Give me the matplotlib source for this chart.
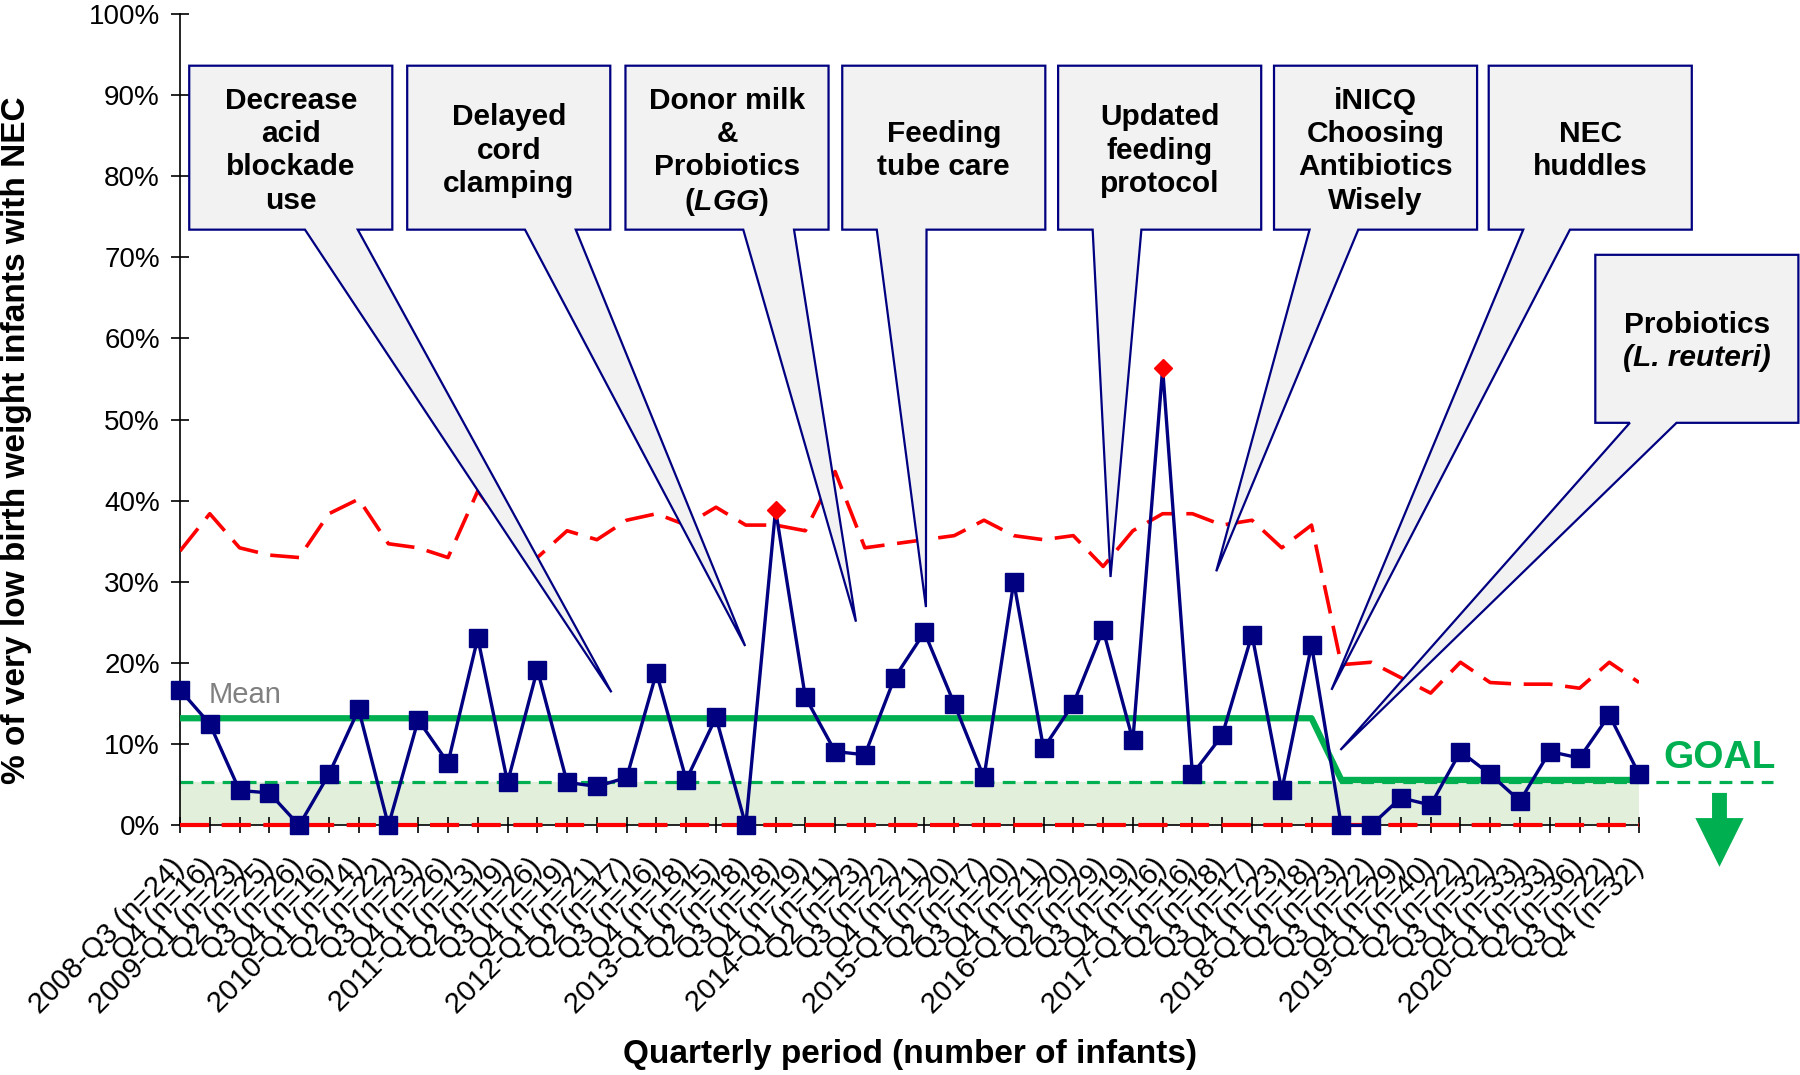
import numpy as np
import matplotlib.pyplot as plt
from matplotlib.patches import Polygon, FancyArrow

plt.rcParams['font.family'] = ['Liberation Sans', 'DejaVu Sans']
has_bfit = 'mathtext.bfit' in plt.rcParams
if has_bfit:
    plt.rcParams['mathtext.fontset'] = 'custom'
    plt.rcParams['mathtext.bfit'] = 'Liberation Sans:italic:bold'

# quarterly periods and number of infants
periods = ["2008-Q3", "Q4",
           "2009-Q1", "Q2", "Q3", "Q4",
           "2010-Q1", "Q2", "Q3", "Q4",
           "2011-Q1", "Q2", "Q3", "Q4",
           "2012-Q1", "Q2", "Q3", "Q4",
           "2013-Q1", "Q2", "Q3", "Q4",
           "2014-Q1", "Q2", "Q3", "Q4",
           "2015-Q1", "Q2", "Q3", "Q4",
           "2016-Q1", "Q2", "Q3", "Q4",
           "2017-Q1", "Q2", "Q3", "Q4",
           "2018-Q1", "Q2", "Q3", "Q4",
           "2019-Q1", "Q2", "Q3", "Q4",
           "2020-Q1", "Q2", "Q3", "Q4"]
n_infants = [24, 16, 23, 25, 26, 16, 14, 22, 23, 26,
             13, 19, 26, 19, 21, 17, 16, 18, 15, 18,
             18, 19, 11, 23, 22, 21, 20, 17, 20, 21,
             20, 29, 19, 16, 16, 18, 17, 23, 18, 23,
             22, 29, 40, 22, 32, 33, 33, 36, 22, 32]

# % of VLBW infants with NEC
nec_pct = [16.7, 12.5, 4.3, 4.0, 0.0, 6.3, 14.3, 0.0, 13.0, 7.7,
           23.1, 5.3, 19.2, 5.3, 4.8, 5.9, 18.8, 5.6, 13.3, 0.0,
           38.9, 15.8, 9.1, 8.7, 18.2, 23.8, 15.0, 5.9, 30.0, 9.5,
           15.0, 24.1, 10.5, 56.3, 6.3, 11.1, 23.5, 4.3, 22.2, 0.0,
           0.0, 3.4, 2.5, 9.1, 6.3, 3.0, 9.1, 8.3, 13.6, 6.3]
# upper control limit
ucl_pct = [33.8, 38.4, 34.2, 33.3, 33.0, 38.4, 40.2, 34.7, 34.2, 33.0,
           41.2, 36.3, 33.0, 36.3, 35.2, 37.6, 38.4, 37.0, 39.2, 37.0,
           37.0, 36.3, 43.6, 34.2, 34.7, 35.2, 35.7, 37.6, 35.7, 35.2,
           35.7, 31.9, 36.3, 38.4, 38.4, 37.0, 37.6, 34.2, 37.0, 19.8,
           20.1, 18.2, 16.3, 20.1, 17.6, 17.4, 17.4, 16.9, 20.1, 17.6]
# centre line (mean)
center_pct = [13.2, 13.2, 13.2, 13.2, 13.2, 13.2, 13.2, 13.2, 13.2, 13.2,
              13.2, 13.2, 13.2, 13.2, 13.2, 13.2, 13.2, 13.2, 13.2, 13.2,
              13.2, 13.2, 13.2, 13.2, 13.2, 13.2, 13.2, 13.2, 13.2, 13.2,
              13.2, 13.2, 13.2, 13.2, 13.2, 13.2, 13.2, 13.2, 13.2, 5.6,
              5.6, 5.6, 5.6, 5.6, 5.6, 5.6, 5.6, 5.6, 5.6, 5.6]
lcl_pct = [0.0] * 50
goal_pct = 5.3

y_ticks = [0, 10, 20, 30, 40, 50, 60, 70, 80, 90, 100]

if has_bfit:
    lgg_line = r"($\mathbfit{LGG}$)"
else:
    lgg_line = "(LGG)"
callout_text = [["Decrease", "acid", "blockade", "use"],
                ["Delayed", "cord", "clamping"],
                ["Donor milk", "&", "Probiotics", lgg_line],
                ["Feeding", "tube care"],
                ["Updated", "feeding", "protocol"],
                ["iNICQ", "Choosing", "Antibiotics", "Wisely"],
                ["NEC", "huddles"],
                ["Probiotics", "(L. reuteri)"]]

navy = '#000080'
red = '#ff0000'
green = '#00b050'

x = np.arange(1, len(nec_pct) + 1)
rate = np.array(nec_pct)
ucl = np.array(ucl_pct)

fig = plt.figure(figsize=(18, 10.75), dpi=100)
ax = fig.add_axes([0.1, 0.2322, 0.8106, 0.755])

# goal zone
ax.fill_between(x, 0, goal_pct, color='#e2efda', lw=0, zorder=1)
ax.plot([1, 54.5], [goal_pct, goal_pct], color=green, lw=2.3,
        ls=(0, (4, 2.6)), clip_on=False, zorder=2)

ax.plot(x, lcl_pct, color=red, lw=3, ls=(0, (7, 3)), clip_on=False, zorder=3)
ax.plot(x, ucl, color=red, lw=2.6, ls=(0, (8, 3.5)), zorder=3)
ax.plot(x, center_pct, color=green, lw=4.5, solid_capstyle='butt', zorder=4)

ax.plot(x, rate, color=navy, lw=2.4, clip_on=False, zorder=5)
inside = rate <= ucl
ax.plot(x[inside], rate[inside], 's', color=navy, ms=13.5, ls='none',
        clip_on=False, zorder=6)
ax.plot(x[~inside], rate[~inside], 'D', color=red, ms=9, ls='none',
        clip_on=False, zorder=6)

ax.text(1.97, 16.1, "Mean", color='#808080', fontsize=21, va='center', ha='left',
        zorder=7)

# goal label and arrow
ax.text(52.7, 8.3, "GOAL", color=green, fontsize=28, fontweight='bold',
        ha='center', va='center', clip_on=False)
ax.add_patch(FancyArrow(52.7, 4.0, 0, -9.1, width=0.5, head_width=1.62,
                        head_length=6.0, length_includes_head=True,
                        color=green, lw=0, clip_on=False))

# callouts
box_left = [1.31, 8.63, 15.96, 23.24, 30.49, 37.74, 44.95, 48.53]
box_w = 6.82
box_top = [93.6, 93.6, 93.6, 93.6, 93.6, 93.6, 93.6, 70.3]
box_bot = [73.4, 73.4, 73.4, 73.4, 73.4, 73.4, 73.4, 49.6]
base_frac = [(0.57, 0.83), (0.58, 0.83), (0.58, 0.83), (0.17, 0.415),
             (0.17, 0.41), (0.175, 0.415), (0.17, 0.40), (0.17, 0.40)]
tips = [(15.49, 16.4), (19.98, 22.1), (23.70, 25.1), (26.05, 26.9),
        (32.25, 30.6), (35.8, 31.3), (39.67, 16.7), (39.97, 9.3)]
line_step = 4.1

for i, lines in enumerate(callout_text):
    x0 = box_left[i]
    x1 = x0 + box_w
    y0, y1 = box_bot[i], box_top[i]
    b0 = x0 + base_frac[i][0] * box_w
    b1 = x0 + base_frac[i][1] * box_w
    pts = [(x0, y1), (x1, y1), (x1, y0), (b1, y0), tips[i], (b0, y0), (x0, y0)]
    ax.add_patch(Polygon(pts, closed=True, fc='#f2f2f2', ec=navy, lw=1.6,
                         joinstyle='miter', clip_on=False, zorder=10))
    yc = (y0 + y1) / 2
    nl = len(lines)
    for k, s in enumerate(lines):
        yy = yc + ((nl - 1) / 2 - k) * line_step
        style = 'italic' if s.startswith('(L.') else 'normal'
        ax.text((x0 + x1) / 2, yy, s, fontsize=21.5, fontweight='bold',
                fontstyle=style, ha='center', va='center_baseline',
                clip_on=False, zorder=11)

# axes
ax.set_xlim(1, 50)
ax.set_ylim(0, 100)
ax.spines['top'].set_visible(False)
ax.spines['right'].set_visible(False)
ax.spines['left'].set_linewidth(1.2)
ax.spines['bottom'].set_linewidth(1.2)
ax.set_yticks(y_ticks)
ax.set_yticklabels([f"{v}%" for v in y_ticks], fontsize=20)
ax.set_xticks(x)
ax.set_xticklabels([f"{p} (n={n})" for p, n in zip(periods, n_infants)],
                   fontsize=21, rotation=45, ha='right', va='center',
                   rotation_mode='anchor')
ax.tick_params(axis='y', direction='inout', length=13, width=1.2, pad=8)
ax.tick_params(axis='x', direction='inout', length=12, width=1.2, pad=21)

fig.text(0.009, 0.59, "% of very low birth weight infants with NEC",
         rotation=90, fontsize=24, fontweight='bold', ha='center', va='center')
fig.text(0.5058, 0.0195, "Quarterly period (number of infants)",
         fontsize=24, fontweight='bold', ha='center', va='center')

plt.savefig('out.png', dpi=100)
